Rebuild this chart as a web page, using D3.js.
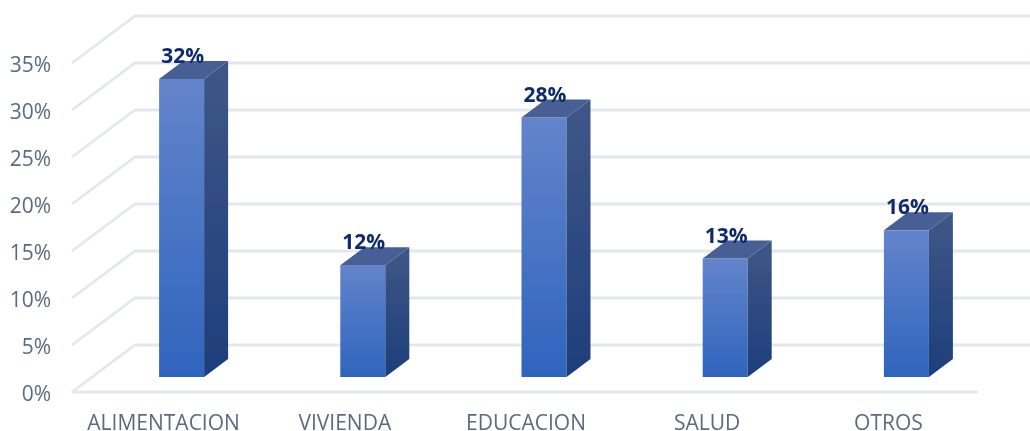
<!DOCTYPE html>
<html>
<head>
<meta charset="utf-8">
<script src="https://cdn.jsdelivr.net/npm/d3@7"></script>
<style>
  html, body { margin: 0; padding: 0; background: #fff; }
  text { font-family: "Open Sans", sans-serif; }
  .axis text { fill: #5b6b80; font-size: 21px; }
  .axis path, .axis line { display: none; }
  .bar-label { fill: #0f2c6c; font-size: 21px; font-weight: 700; text-anchor: middle; }
</style>
</head>
<body>
<div id="chart"></div>
<script>
const categories = ['ALIMENTACION', 'VIVIENDA', 'EDUCACION', 'SALUD', 'OTROS'];
const values = [0.317, 0.119, 0.276, 0.126, 0.156];
const yTicks = [0, 0.05, 0.10, 0.15, 0.20, 0.25, 0.30, 0.35];

const width = 1030, height = 431;

const svg = d3.select('#chart').append('svg')
    .attr('width', width)
    .attr('height', height)
    .style('display', 'block');

// Gradients for the front and the side of the bars
const defs = svg.append('defs');
function addGradient(id, top, bottom) {
  const g = defs.append('linearGradient').attr('id', id)
      .attr('x1', 0).attr('y1', 0).attr('x2', 0).attr('y2', 1);
  g.append('stop').attr('offset', '0%').attr('stop-color', top);
  g.append('stop').attr('offset', '100%').attr('stop-color', bottom);
}
addGradient('front', '#6384cb', '#2f64bd');
addGradient('side', '#3f5787', '#1d3e7b');
defs.append('filter').attr('id', 'soft')
    .append('feGaussianBlur').attr('stdDeviation', 0.55);

const root = svg.append('g').attr('filter', 'url(#soft)');

// 3 scales because of the fake perspective: front edge, back wall and bar plane
const yFront = d3.scaleLinear().domain([0, 0.35]).range([392, 63]);
const yBack = d3.scaleLinear().domain([0, 0.35]).range([345, 16]);
const yBar = d3.scaleLinear().domain([0, 0.35]).range([377, 48]);
const x = d3.scaleBand().domain(categories).range([72, 978]);

const wallX = 135, rightX = 1030;
const barW = 45, depthX = 24, depthY = 18, barShift = 19;

// Gridlines on the side wall and the back wall
const grid = root.append('g').attr('fill', 'none')
    .attr('stroke', '#e4e7ef').attr('stroke-width', 2.8);

grid.selectAll('path')
  .data(yTicks)
  .join('path')
    .attr('d', d => `M${x.range()[0]},${yFront(d)}L${wallX},${yBack(d)}H${rightX}`);

// Front edge of the floor
grid.append('line')
    .attr('x1', x.range()[0])
    .attr('x2', x.range()[1])
    .attr('y1', yFront(0))
    .attr('y2', yFront(0));

// Axes
root.append('g')
    .attr('class', 'axis')
    .attr('transform', 'translate(60,2)')
    .call(d3.axisLeft(yFront).tickValues(yTicks).tickFormat(d3.format('.0%')).tickSize(0).tickPadding(9));

root.append('g')
    .attr('class', 'axis')
    .attr('transform', 'translate(1,409)')
    .call(d3.axisBottom(x).tickSize(0).tickPadding(6));

// Bars
const bars = root.selectAll('.bar')
  .data(categories.map((c, i) => ({category: c, value: values[i]})))
  .join('g')
    .attr('class', 'bar')
    .attr('transform', d => `translate(${x(d.category) + x.bandwidth() / 2 + barShift - barW / 2},0)`);

bars.append('rect')
    .attr('width', barW)
    .attr('y', d => yBar(d.value))
    .attr('height', d => yBar(0) - yBar(d.value))
    .attr('fill', 'url(#front)');

bars.append('path')
    .attr('d', d => `M${barW},${yBar(d.value)}l${depthX},${-depthY}V${yBar(0) - depthY}l${-depthX},${depthY}Z`)
    .attr('fill', 'url(#side)');

bars.append('path')
    .attr('d', d => `M0,${yBar(d.value)}l${depthX},${-depthY}h${barW}l${-depthX},${depthY}Z`)
    .attr('fill', '#475f95');

bars.append('text')
    .attr('class', 'bar-label')
    .attr('x', barW / 2 + 1)
    .attr('y', d => yBar(d.value) - 16)
    .text(d => d3.format('.0%')(d.value));
</script>
</body>
</html>
